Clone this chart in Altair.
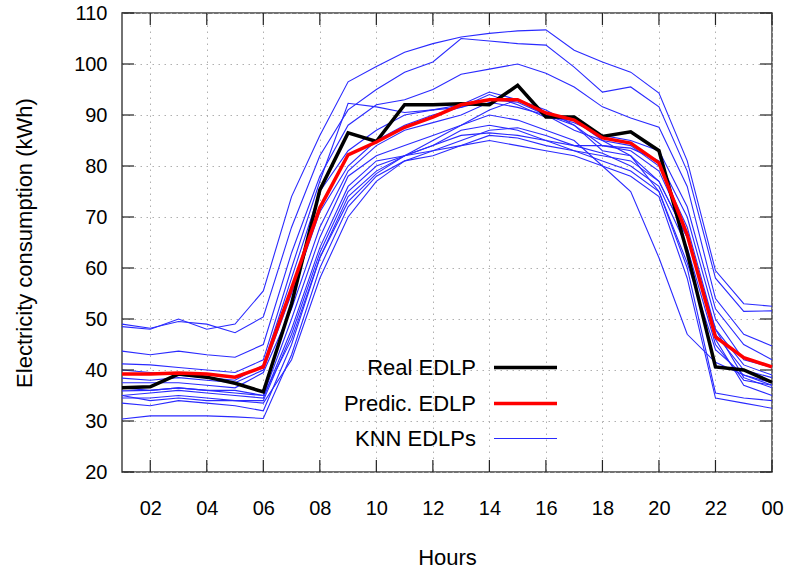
import altair as alt
import pandas as pd

hours = list(range(1, 25))

real_edlp = [36.5, 36.7, 39.2, 38.6, 37.4, 35.7, 53.0, 75.3, 86.5, 84.8, 92.0, 92.0, 92.2, 92.0, 95.8,
             89.6, 89.6, 85.8, 86.7, 83.0, 63.0, 40.6, 40.0, 37.6]
pred_edlp = [39.2, 39.2, 39.4, 39.2, 38.6, 40.6, 56.0, 71.8, 82.2, 84.7, 87.6, 89.6, 92.0, 93.0, 93.0,
             90.4, 89.0, 85.5, 84.5, 80.6, 66.5, 46.5, 42.4, 40.6]

knn_edlps = [
    [48.5, 48.0, 50.0, 48.0, 49.0, 55.5, 74.0, 86.0, 96.5, 99.5, 102.3, 104.0, 105.3, 106.0, 106.5,
     106.7, 102.7, 100.4, 98.4, 94.3, 81.0, 59.5, 53.0, 52.5],
    [49.0, 48.2, 49.5, 49.0, 47.3, 50.4, 68.0, 82.0, 91.0, 95.0, 98.4, 100.4, 105.0, 104.5, 104.0,
     103.7, 99.4, 94.5, 95.5, 91.6, 79.0, 58.0, 51.5, 51.6],
    [43.7, 43.0, 43.7, 43.0, 42.5, 45.0, 63.0, 78.0, 88.0, 92.0, 93.0, 95.0, 98.0, 99.0, 100.0,
     98.2, 95.5, 91.6, 89.4, 87.6, 76.0, 54.0, 47.0, 44.7],
    [41.2, 41.0, 40.5, 40.0, 39.5, 42.0, 60.0, 77.0, 92.3, 91.6, 90.5, 91.0, 91.5, 93.0, 92.5,
     90.0, 88.5, 86.0, 85.0, 83.0, 72.0, 52.0, 45.0, 42.0],
    [40.0, 39.5, 39.0, 38.5, 38.0, 41.0, 58.0, 75.0, 83.0, 87.0, 90.0, 91.0, 92.0, 94.5, 93.0,
     91.0, 88.0, 84.0, 83.5, 81.0, 70.0, 50.0, 42.0, 40.5],
    [38.4, 38.0, 38.5, 38.0, 37.5, 40.0, 55.0, 71.0, 80.0, 85.0, 88.0, 90.0, 91.5, 94.0, 92.0,
     89.5, 89.0, 85.0, 84.0, 80.0, 68.0, 48.0, 41.0, 39.0],
    [37.5, 37.5, 37.5, 37.0, 36.5, 39.5, 52.0, 68.0, 79.0, 84.0, 87.0, 88.5, 90.0, 92.5, 91.5,
     90.0, 88.0, 83.0, 82.0, 77.0, 66.0, 47.0, 40.0, 38.5],
    [35.9, 36.0, 36.5, 36.0, 36.0, 35.0, 50.0, 66.0, 78.0, 82.0, 84.0, 86.0, 88.0, 91.0, 93.0,
     90.0, 87.0, 85.0, 82.0, 75.0, 61.0, 44.0, 39.0, 37.5],
    [35.0, 35.5, 36.0, 35.5, 35.0, 34.5, 48.0, 64.0, 76.0, 81.0, 82.0, 83.0, 85.0, 87.0, 87.5,
     86.0, 84.0, 82.5, 80.0, 76.0, 64.0, 45.0, 38.0, 37.0],
    [34.5, 34.5, 35.0, 34.5, 34.0, 34.0, 47.0, 63.0, 75.0, 80.0, 82.0, 84.0, 86.0, 86.5, 86.0,
     85.0, 83.0, 82.0, 81.0, 77.0, 66.0, 48.0, 38.5, 36.5],
    [33.5, 33.0, 34.0, 33.5, 33.0, 32.0, 45.0, 62.0, 74.0, 79.0, 82.0, 84.0, 87.0, 88.0, 87.0,
     85.0, 84.0, 84.0, 83.0, 79.0, 67.0, 46.0, 37.0, 35.0],
    [30.4, 31.0, 31.0, 31.0, 30.8, 30.5, 43.0, 60.0, 72.0, 78.0, 81.0, 82.0, 84.0, 86.0, 85.5,
     84.0, 83.0, 81.0, 79.0, 75.0, 60.0, 35.5, 34.5, 34.0],
    [35.0, 34.0, 34.5, 34.0, 34.0, 33.5, 42.0, 58.0, 70.0, 77.0, 81.0, 83.0, 84.0, 85.0, 84.0,
     83.0, 82.0, 80.0, 78.0, 74.0, 58.0, 34.5, 33.5, 32.5],
    [36.5, 36.0, 36.5, 36.0, 35.5, 35.0, 46.0, 62.0, 73.0, 78.5, 82.0, 85.0, 88.0, 90.0, 89.0,
     87.0, 85.0, 80.0, 75.0, 62.0, 47.0, 41.5, 39.0, 37.0],
]

series_names = ["Real EDLP", "Predic. EDLP", "KNN EDLPs"]
series_colors = ["#000000", "#ff0000", "#2a2aff"]
series_widths = [3.5, 3.5, 1.1]

x_ticks = list(range(2, 25, 2))
y_ticks = list(range(20, 111, 10))

rows = []
for h, v in zip(hours, real_edlp):
    rows.append({"hour": h, "value": v, "series": "Real EDLP", "line": "real"})
for h, v in zip(hours, pred_edlp):
    rows.append({"hour": h, "value": v, "series": "Predic. EDLP", "line": "pred"})
for i, vals in enumerate(knn_edlps):
    for h, v in zip(hours, vals):
        rows.append({"hour": h, "value": v, "series": "KNN EDLPs", "line": f"knn{i:02d}"})
df = pd.DataFrame(rows)

W, H = 650, 459
FONT = "Liberation Sans"
FS = 20
TFS = 22
LFS = 22
TICK = 12

x_scale = alt.Scale(domain=[1, 24], nice=False, zero=False)
y_scale = alt.Scale(domain=[20, 110], nice=False, zero=False)

x_axis = alt.Axis(values=x_ticks, title="Hours", ticks=False, domain=False, labelFlush=False,
                  labelExpr="datum.value == 24 ? '00' : (datum.value < 10 ? '0' + datum.value : '' + datum.value)",
                  labelPadding=26, titlePadding=29, grid=True)
y_axis = alt.Axis(values=y_ticks, title="Electricity consumption (kWh)", ticks=False, domain=False,
                  labelFlush=False, labelPadding=15, titlePadding=37, grid=True)

legend = alt.Legend(orient="none", legendX=391, legendY=342, title=None, symbolType="M-3,0L3,0",
                    symbolSize=441, labelAlign="right", labelOffset={"expr": "-62"}, labelFontSize=LFS,
                    labelFont=FONT, labelColor="#000000", rowPadding=12, symbolOpacity=1)

color = alt.Color("series:N", scale=alt.Scale(domain=series_names, range=series_colors), legend=legend)
swidth = alt.StrokeWidth("series:N", scale=alt.Scale(type="ordinal", domain=series_names, range=series_widths),
                         legend=legend)

base = alt.Chart(df).encode(
    x=alt.X("hour:Q", scale=x_scale, axis=x_axis),
    y=alt.Y("value:Q", scale=y_scale, axis=y_axis),
    color=color,
    strokeWidth=swidth,
    detail="line:N",
)

knn_layer = base.transform_filter(alt.datum.series == "KNN EDLPs").mark_line(strokeJoin="miter")
real_layer = base.transform_filter(alt.datum.series == "Real EDLP").mark_line(strokeJoin="miter")
pred_layer = base.transform_filter(alt.datum.series == "Predic. EDLP").mark_line(strokeJoin="miter")

xt_df = pd.DataFrame({"t": x_ticks})
yt_df = pd.DataFrame({"t": y_ticks})
tick_color = "#222222"

xt_bottom = alt.Chart(xt_df).mark_rule(color=tick_color, strokeWidth=1.2).encode(
    x=alt.X("t:Q", scale=x_scale, axis=x_axis), y=alt.value(H), y2=alt.value(H - TICK))
xt_top = alt.Chart(xt_df).mark_rule(color=tick_color, strokeWidth=1.2).encode(
    x=alt.X("t:Q", scale=x_scale, axis=x_axis), y=alt.value(0), y2=alt.value(TICK))
yt_left = alt.Chart(yt_df).mark_rule(color=tick_color, strokeWidth=1.2).encode(
    y=alt.Y("t:Q", scale=y_scale, axis=y_axis), x=alt.value(0), x2=alt.value(TICK))
yt_right = alt.Chart(yt_df).mark_rule(color=tick_color, strokeWidth=1.2).encode(
    y=alt.Y("t:Q", scale=y_scale, axis=y_axis), x=alt.value(W), x2=alt.value(W - TICK))

chart = alt.layer(knn_layer, real_layer, pred_layer, xt_bottom, xt_top, yt_left, yt_right).properties(
    width=W, height=H,
    autosize=alt.AutoSizeParams(type="none"),
    padding={"left": 122, "top": 13, "right": 15, "bottom": 101},
).configure_view(
    stroke="#444444", strokeWidth=1.5
).configure_axis(
    labelFont=FONT, labelFontSize=FS, labelColor="#000000",
    titleFont=FONT, titleFontSize=TFS, titleColor="#000000", titleFontWeight="normal",
    gridColor="#b0b0b0", gridDash=[1.5, 4.5], gridWidth=1,
)

chart.save("out.html", embed_options={"renderer": "svg", "actions": False})
